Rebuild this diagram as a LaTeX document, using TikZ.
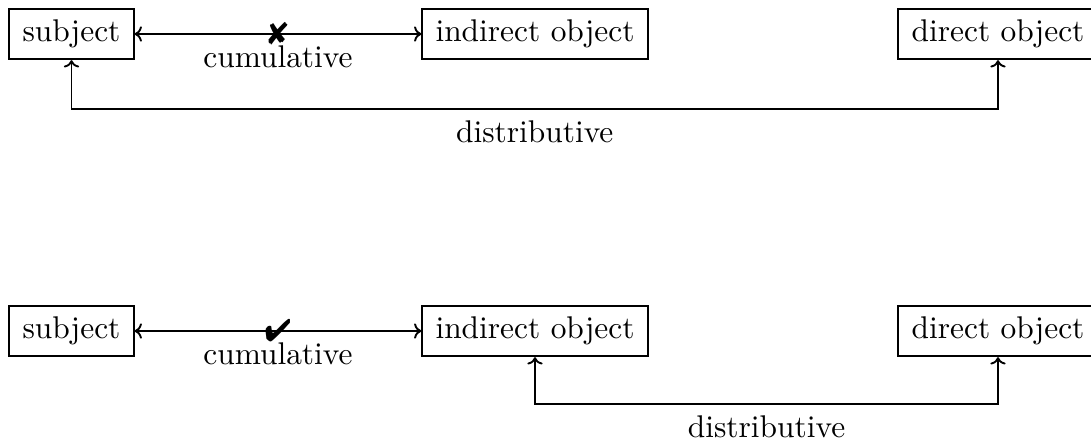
\documentclass[tikz,border=0pt]{standalone}
\usepackage{pifont}
\usetikzlibrary{arrows.meta}

\begin{document}
\begin{tikzpicture}[x=0.3185pt, y=-0.3185pt, >={To[scale=0.8]}, line width=0.6pt,
    role/.style={draw, inner xsep=4.2pt, inner ysep=3.6pt, text height=6.94pt, text depth=1.94pt},
    tag/.style={inner sep=2pt, below=1.5pt}]
  \useasboundingbox (0,0) rectangle (1091,442);
  % ---------------- top row: cumulative reading ruled out
  \node[role] (subjA) at (71.5,34) {subject};
  \node[role] (indA) at (535,34) {indirect object};
  \node[role] (dirA) at (998,34) {direct object};
  \draw[<->] (subjA) -- (indA)
    node[midway, inner sep=0pt] (crossA) {\ding{56}}
    node[midway, tag] (cumA) {cumulative};
  \draw[<->] (subjA.south) -- ++(0,49) -| (dirA.south)
    node[pos=0.25, tag] (distA) {distributive};
  % ---------------- bottom row: cumulative reading allowed
  \node[role] (subjB) at (71.5,331) {subject};
  \node[role] (indB) at (535,331) {indirect object};
  \node[role] (dirB) at (998,331) {direct object};
  \draw[<->] (subjB) -- (indB)
    node[midway, inner sep=0pt] (checkB) {\ding{52}}
    node[midway, tag] (cumB) {cumulative};
  \draw[<->] (indB.south) -- ++(0,47) -| (dirB.south)
    node[pos=0.25, tag] (distB) {distributive};
\end{tikzpicture}
\end{document}
